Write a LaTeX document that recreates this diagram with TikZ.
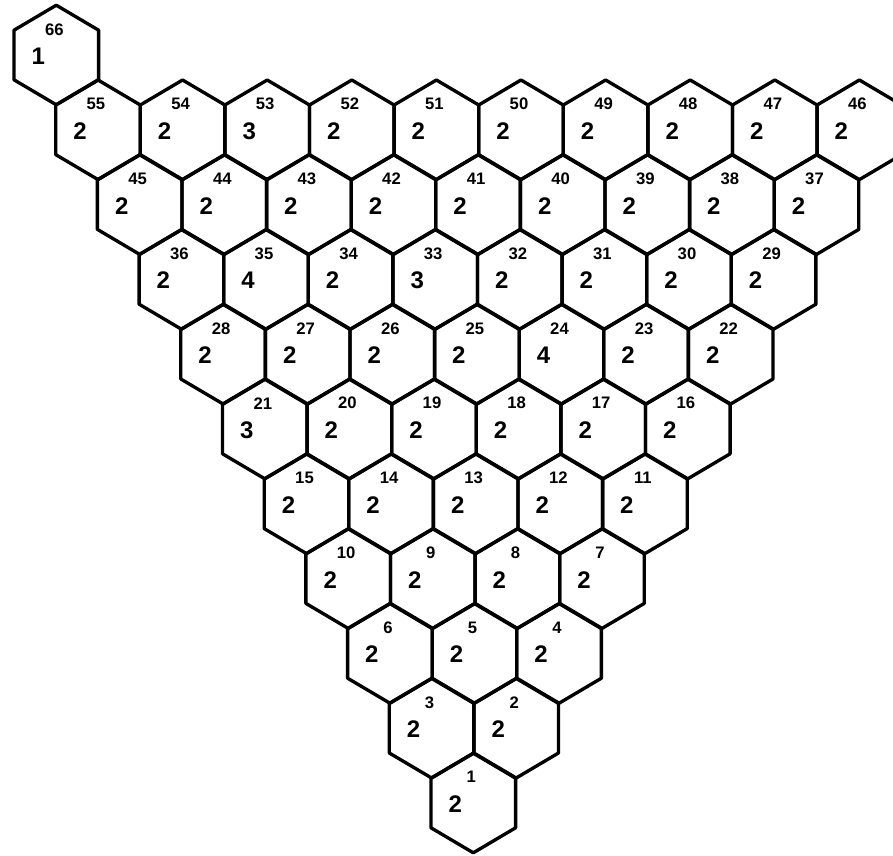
\documentclass[tikz,border=0pt]{standalone}
\usepackage{fontspec}
\setmainfont{Liberation Sans}
\begin{document}
\begin{tikzpicture}[x=0.75pt,y=-0.75pt,
  hexline/.style={line width=2.5pt, line join=round},
  idx/.style={font=\bfseries\fontsize{12.5}{12.5}\selectfont, inner sep=0pt},
  val/.style={font=\bfseries\fontsize{18}{18}\selectfont, inner sep=0pt}]
\useasboundingbox (0,0) rectangle (893,856);
\clip (0,0) rectangle (893,856);
\foreach \r in {0,...,9} {
  \pgfmathtruncatemacro\m{10-\r}
  \pgfmathtruncatemacro\kmax{\m-1}
  \foreach \k in {0,...,\kmax} {
    \pgfmathtruncatemacro\n{\m*(\m+1)/2-\k}
    \pgfmathsetmacro\cx{98+41.7*\r+84.6*\k}
    \pgfmathsetmacro\cy{130+74.8*\r}
    \pgfmathtruncatemacro\v{2+(\n==21)+2*(\n==24)+(\n==33)+2*(\n==35)+(\n==53)}
    \coordinate (h\n) at (\cx,\cy);
    \draw[hexline] (h\n) ++(0,-50) -- ++(42.3,25) -- ++(0,49.6) -- ++(-42.3,25) -- ++(-42.3,-25) -- ++(0,-49.6) -- cycle;
    \node[idx] (n\n) at ([shift={(-2,-26)}]h\n) {\n};
    \node[val] (v\n) at ([shift={(-18,1)}]h\n) {\v};
  }
}
\coordinate (h66) at (56.3,55.2);
\draw[hexline] (h66) ++(0,-50) -- ++(42.3,25) -- ++(0,49.6) -- ++(-42.3,25) -- ++(-42.3,-25) -- ++(0,-49.6) -- cycle;
\node[idx] (n66) at ([shift={(-2,-25)}]h66) {66};
\node[val] (v66) at ([shift={(-18,1)}]h66) {1};
\end{tikzpicture}
\end{document}
